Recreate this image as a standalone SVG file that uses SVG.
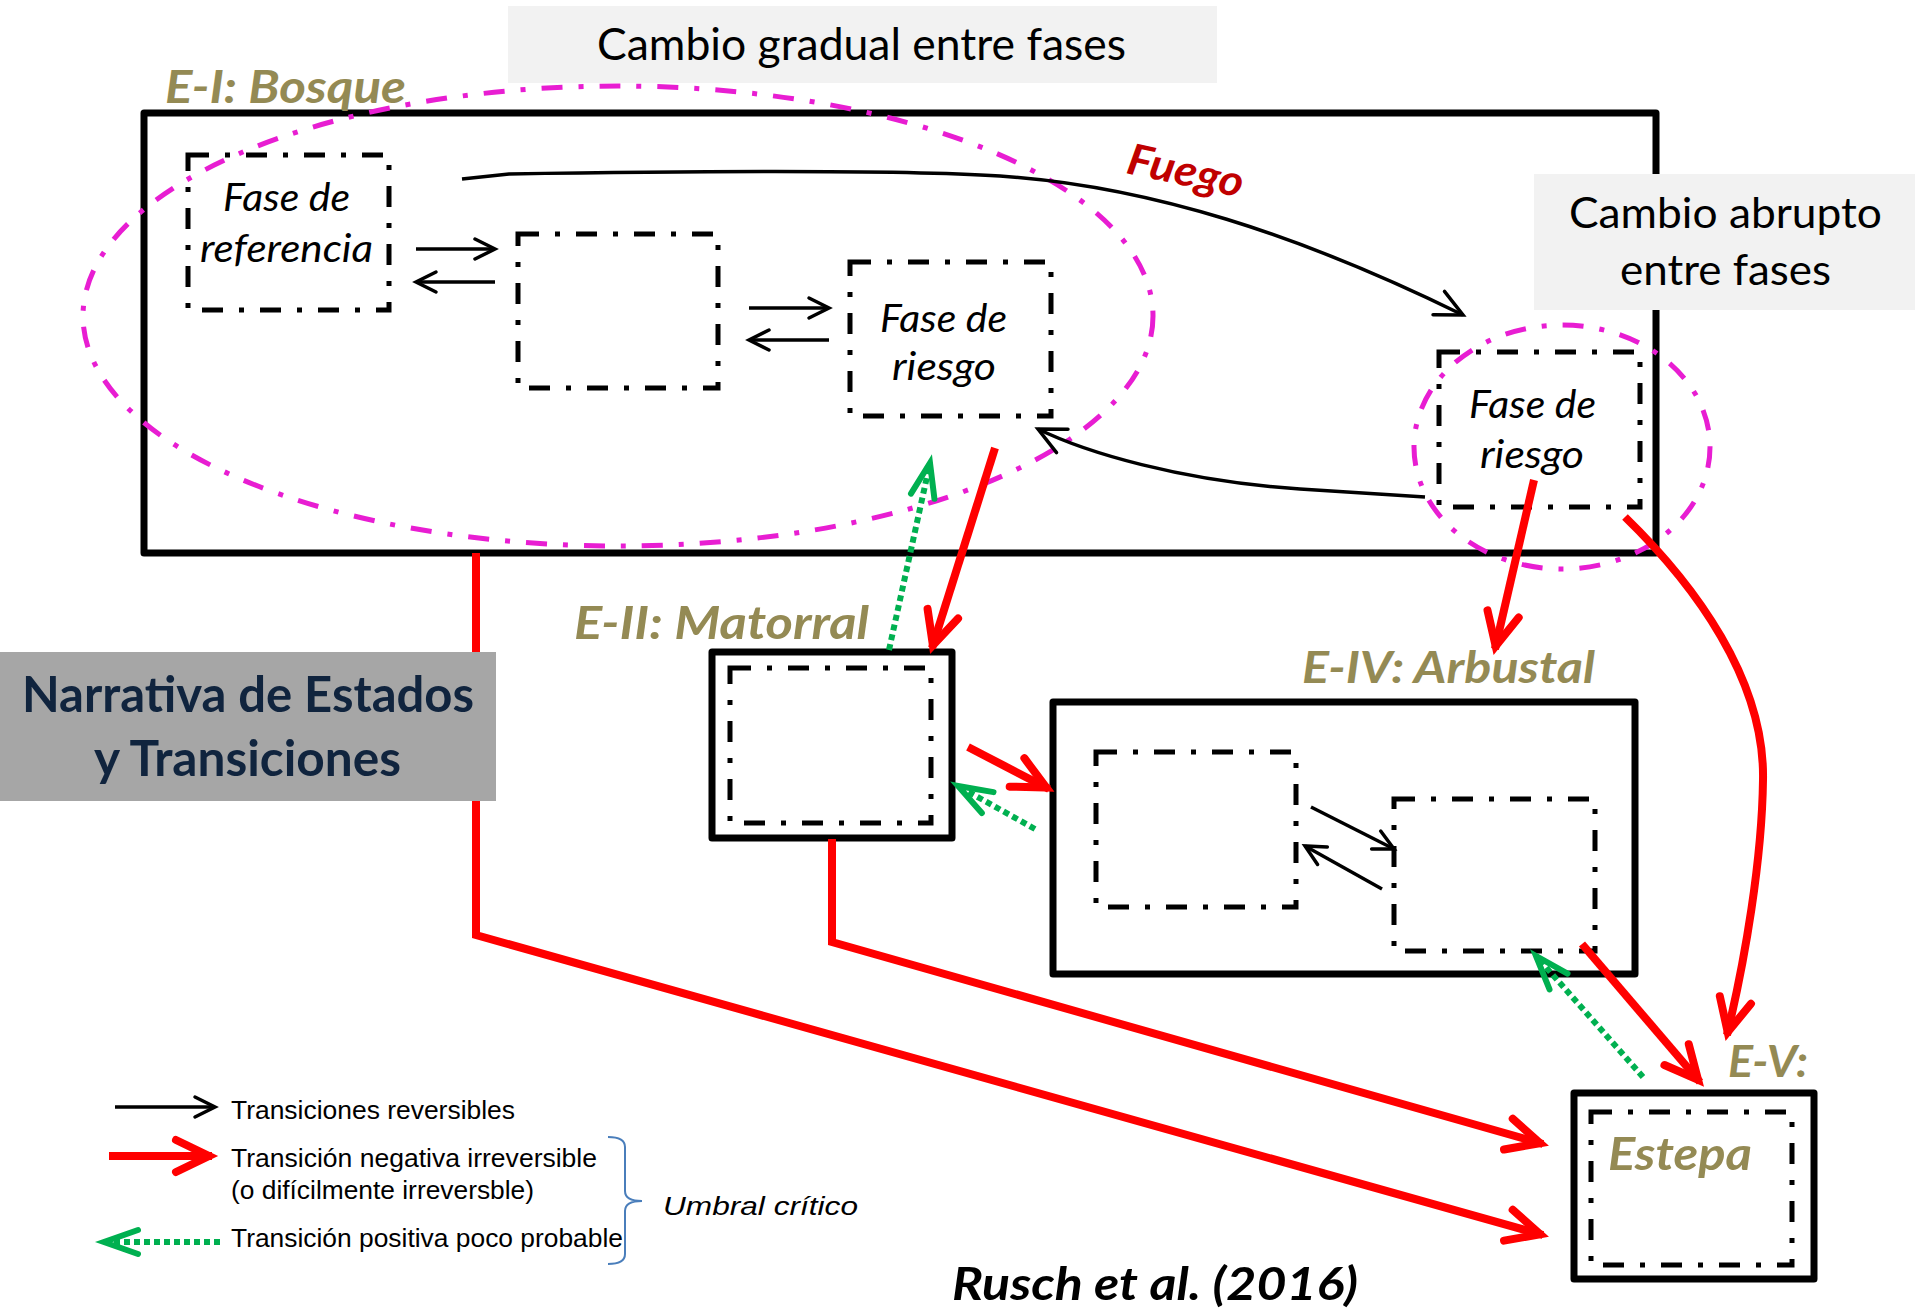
<svg xmlns="http://www.w3.org/2000/svg" width="1915" height="1308" viewBox="0 0 1915 1308">
  <style>
    .state { fill: none; stroke: #000; stroke-width: 7; stroke-linejoin: round; }
    .phase { fill: none; stroke: #000; stroke-width: 5; stroke-dasharray: 21 16 5 16; stroke-linejoin: miter; }
    .halo { fill: none; stroke: #E81DD2; stroke-width: 5; stroke-dasharray: 21 16 5 16; }
    .note { fill: #F2F2F2; }
    .cal { font-family: Lato, "Open Sans", sans-serif; }
    .state-label { font-family: Lato, "Open Sans", sans-serif; font-weight: bold; font-style: italic; fill: #948A54; }
    .phase-label { font-family: Lato, "Open Sans", sans-serif; font-style: italic; font-size: 39px; fill: #000; }
    .rev { fill: none; stroke: #000; stroke-width: 3.5; }
    .neg { fill: none; stroke: #FF0000; stroke-width: 8; stroke-linejoin: miter; }
    .pos { fill: none; stroke: #00B050; stroke-width: 6; stroke-dasharray: 6 4; }
    .legend { font-family: "Liberation Sans", Arial, sans-serif; font-size: 25px; fill: #000; }
  </style>
  <defs>
    <marker id="head-rev" markerUnits="userSpaceOnUse" orient="auto" markerWidth="40" markerHeight="40" refX="0" refY="0" viewBox="-30 -20 40 40" overflow="visible">
      <path d="M-20,-10 L0,0 L-20,10" fill="none" stroke="#000" stroke-width="3.5" stroke-linecap="round" stroke-linejoin="miter"/>
    </marker>
    <marker id="head-rev-lg" markerUnits="userSpaceOnUse" orient="auto" markerWidth="40" markerHeight="40" refX="0" refY="0" viewBox="-30 -20 40 40" overflow="visible">
      <path d="M-27,-13 L0,0 L-27,13" fill="none" stroke="#000" stroke-width="3.5" stroke-linecap="round" stroke-linejoin="miter"/>
    </marker>
    <marker id="head-neg" markerUnits="userSpaceOnUse" orient="auto" markerWidth="60" markerHeight="60" refX="0" refY="0" viewBox="-45 -25 60 50" overflow="visible">
      <path d="M-36,-16 L-3,0 L-36,16" fill="none" stroke="#FF0000" stroke-width="8" stroke-linecap="round" stroke-linejoin="miter"/>
    </marker>
    <marker id="head-pos" markerUnits="userSpaceOnUse" orient="auto" markerWidth="60" markerHeight="60" refX="0" refY="0" viewBox="-45 -25 60 50" overflow="visible">
      <path d="M-34,-12 L0,0 L-34,12" fill="none" stroke="#00B050" stroke-width="6" stroke-linecap="round" stroke-linejoin="miter"/>
    </marker>
  </defs>

  <rect width="1915" height="1308" fill="#FFFFFF"/>

  <!-- Heading boxes -->
  <g id="note-gradual">
    <rect class="note" x="508" y="6" width="709" height="77"/>
    <text class="cal" x="597" y="60" font-size="44" textLength="529" lengthAdjust="spacingAndGlyphs" fill="#000">Cambio gradual entre fases</text>
  </g>

  <!-- State I: forest -->
  <g id="state-bosque">
    <rect class="state" x="144" y="113" width="1512" height="440"/>
    <text class="state-label" x="165" y="103" font-size="45" textLength="241" lengthAdjust="spacingAndGlyphs">E-I: Bosque</text>
  </g>
  <g id="phase-referencia">
    <rect class="phase" x="188" y="155" width="201" height="155"/>
    <text class="phase-label" x="223" y="211" textLength="127" lengthAdjust="spacingAndGlyphs">Fase de</text>
    <text class="phase-label" x="200" y="262" textLength="173" lengthAdjust="spacingAndGlyphs">referencia</text>
  </g>
  <g id="phase-intermedia">
    <rect class="phase" x="518" y="234" width="200" height="154"/>
  </g>
  <g id="phase-riesgo-1">
    <rect class="phase" x="850" y="262" width="201" height="154"/>
    <text class="phase-label" x="880" y="332" textLength="127" lengthAdjust="spacingAndGlyphs">Fase de</text>
    <text class="phase-label" x="892" y="380" textLength="104" lengthAdjust="spacingAndGlyphs">riesgo</text>
  </g>
  <g id="phase-riesgo-2">
    <rect class="phase" x="1439" y="352" width="201" height="155"/>
    <text class="phase-label" x="1469" y="418" textLength="127" lengthAdjust="spacingAndGlyphs">Fase de</text>
    <text class="phase-label" x="1480" y="468" textLength="104" lengthAdjust="spacingAndGlyphs">riesgo</text>
  </g>

  <!-- Gradual / abrupt change envelopes -->
  <g id="halo-gradual">
    <ellipse class="halo" cx="618" cy="316" rx="535" ry="230"/>
  </g>
  <g id="halo-abrupto">
    <ellipse class="halo" cx="1562" cy="447" rx="148" ry="122"/>
  </g>

  <!-- State II: scrub -->
  <g id="state-matorral">
    <rect class="state" x="712" y="652" width="240" height="186"/>
    <rect class="phase" x="730" y="668" width="201" height="155" stroke-width="4.5"/>
    <text class="state-label" x="574" y="639" font-size="45" textLength="295" lengthAdjust="spacingAndGlyphs">E-II: Matorral</text>
  </g>

  <!-- State IV: shrubland -->
  <g id="state-arbustal">
    <rect class="state" x="1053" y="702" width="582" height="272"/>
    <text class="state-label" x="1302" y="683" font-size="44" textLength="293" lengthAdjust="spacingAndGlyphs">E-IV: Arbustal</text>
  </g>
  <g id="phase-arbustal-a">
    <rect class="phase" x="1096" y="752" width="200" height="155" stroke-width="4.5"/>
  </g>
  <g id="phase-arbustal-b">
    <rect class="phase" x="1394" y="799" width="201" height="152" stroke-width="4.5"/>
  </g>

  <!-- State V: steppe -->
  <g id="state-estepa">
    <rect class="state" x="1574" y="1093" width="240" height="186"/>
    <rect class="phase" x="1591" y="1112" width="201" height="153" stroke-width="4.5"/>
    <text class="state-label" x="1728" y="1077" font-size="44" textLength="80" lengthAdjust="spacingAndGlyphs">E-V:</text>
    <text class="state-label" x="1608" y="1170" font-size="46" textLength="144" lengthAdjust="spacingAndGlyphs">Estepa</text>
  </g>

  <!-- Transitions -->
  <g id="connectors">
    <!-- reversible transitions between phases -->
    <line class="rev" x1="416" y1="249" x2="495" y2="249" marker-end="url(#head-rev)"/>
    <line class="rev" x1="495" y1="282" x2="416" y2="282" marker-end="url(#head-rev)"/>
    <line class="rev" x1="749" y1="308" x2="829" y2="308" marker-end="url(#head-rev)"/>
    <line class="rev" x1="829" y1="340" x2="749" y2="340" marker-end="url(#head-rev)"/>
    <line class="rev" x1="1311" y1="807" x2="1394" y2="849" stroke-width="3" marker-end="url(#head-rev)"/>
    <line class="rev" x1="1382" y1="889" x2="1305" y2="846" stroke-width="3" marker-end="url(#head-rev)"/>
    <!-- fire: abrupt change to the risk phase, and recovery back -->
    <path class="rev" d="M462,179 L509,174 C700,171 900,170 1000,176 C1150,186 1300,235 1463,315" marker-end="url(#head-rev-lg)"/>
    <path class="rev" d="M1425,497 L1300,489 C1180,481 1085,452 1038,429" marker-end="url(#head-rev-lg)"/>

    <!-- negative irreversible transitions -->
    <path class="neg" d="M476,553 L476,935 L1543,1235" marker-end="url(#head-neg)"/>
    <path class="neg" d="M832,839 L832,942 L1543,1144" marker-end="url(#head-neg)"/>
    <line class="neg" x1="995" y1="448" x2="932" y2="648" marker-end="url(#head-neg)"/>
    <line class="neg" x1="968" y1="747" x2="1049" y2="789" marker-end="url(#head-neg)"/>
    <line class="neg" x1="1534" y1="480" x2="1495" y2="649" marker-end="url(#head-neg)"/>
    <line class="neg" x1="1582" y1="944" x2="1700" y2="1082" marker-end="url(#head-neg)"/>
    <path class="neg" d="M1625,517 C1695,585 1765,680 1763,780 C1762,860 1745,960 1727,1035" marker-end="url(#head-neg)"/>

    <!-- unlikely positive transitions -->
    <line class="pos" x1="889" y1="650" x2="930" y2="463" marker-end="url(#head-pos)"/>
    <line class="pos" x1="1035" y1="829" x2="958" y2="786" marker-end="url(#head-pos)"/>
    <line class="pos" x1="1643" y1="1077" x2="1536" y2="956" marker-end="url(#head-pos)"/>
  </g>

  <!-- Fire label -->
  <text class="cal" x="1125" y="173" font-size="43" font-weight="bold" font-style="italic" fill="#C00000" textLength="118" lengthAdjust="spacingAndGlyphs" transform="rotate(12 1125 173)">Fuego</text>

  <g id="note-abrupto">
    <rect class="note" x="1534" y="174" width="381" height="136"/>
    <text class="cal" x="1569" y="228" font-size="42" textLength="313" lengthAdjust="spacingAndGlyphs" fill="#000">Cambio abrupto</text>
    <text class="cal" x="1620" y="285" font-size="42" textLength="211" lengthAdjust="spacingAndGlyphs" fill="#000">entre fases</text>
  </g>

  <g id="title">
    <rect x="0" y="652" width="496" height="149" fill="#A6A6A6"/>
    <text class="cal" x="22" y="712" font-size="49" font-weight="bold" textLength="452" lengthAdjust="spacingAndGlyphs" fill="#10243E">Narrativa de Estados</text>
    <text class="cal" x="94" y="776" font-size="49" font-weight="bold" textLength="307" lengthAdjust="spacingAndGlyphs" fill="#10243E">y Transiciones</text>
  </g>

  <!-- Legend -->
  <g id="legend">
    <line class="rev" x1="115" y1="1107" x2="215" y2="1107" marker-end="url(#head-rev)"/>
    <text class="legend" x="231" y="1119" textLength="284" lengthAdjust="spacingAndGlyphs">Transiciones reversibles</text>
    <line class="neg" x1="109" y1="1156" x2="212" y2="1156" marker-end="url(#head-neg)"/>
    <text class="legend" x="231" y="1167" textLength="366" lengthAdjust="spacingAndGlyphs">Transición negativa irreversible</text>
    <text class="legend" x="231" y="1199" textLength="303" lengthAdjust="spacingAndGlyphs">(o difícilmente irreversble)</text>
    <line class="pos" x1="220" y1="1242" x2="104" y2="1242" marker-end="url(#head-pos)"/>
    <text class="legend" x="231" y="1247" textLength="392" lengthAdjust="spacingAndGlyphs">Transición positiva poco probable</text>
    <path d="M608,1137 Q625,1137 625,1147 L625,1191 Q625,1201 642,1201 Q625,1201 625,1211 L625,1254 Q625,1264 608,1264" fill="none" stroke="#4A7EBB" stroke-width="2"/>
    <text class="legend" x="663" y="1215" font-size="27" font-style="italic" textLength="195" lengthAdjust="spacingAndGlyphs">Umbral crítico</text>
  </g>

  <text class="cal" x="952" y="1300" font-size="46" font-weight="bold" font-style="italic" textLength="406" lengthAdjust="spacingAndGlyphs" fill="#000">Rusch et al. (2016)</text>
</svg>
